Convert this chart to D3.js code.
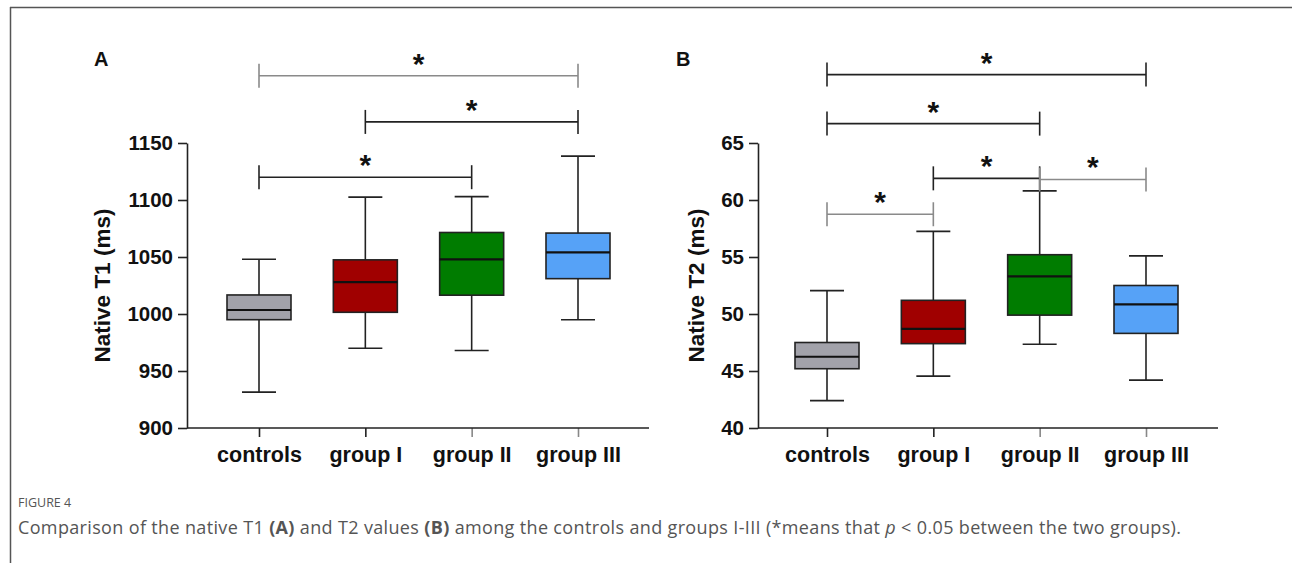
<!DOCTYPE html>
<html>
<head>
<meta charset="utf-8">
<script src="https://cdn.jsdelivr.net/npm/d3@7"></script>
<style>
  body { margin: 0; background: #fff; }
  svg text { font-family: "Liberation Sans", Arial, sans-serif; }
</style>
</head>
<body>
<svg id="chart" width="1292" height="563"></svg>
<script>
// groups and colours
const groups = ["controls", "group I", "group II", "group III"];
const boxColors = ["#a2a2aa", "#a00000", "#007c00", "#56a2f7"];

// native T1 (ms) - whisker low, Q1, median, Q3, whisker high
const t1Low = [931.5, 970, 968, 995];
const t1Q1 = [995, 1001.5, 1016.5, 1031];
const t1Med = [1003.5, 1028, 1048, 1054];
const t1Q3 = [1016.7, 1047.5, 1071.5, 1071];
const t1High = [1048, 1102.5, 1103, 1138.5];
const t1Ticks = [900, 950, 1000, 1050, 1100, 1150];
// significance brackets [from, to, height, light]
const t1Sig = [[0, 2, 1120, false], [1, 3, 1168.5, false], [0, 3, 1209, true]];

// native T2 (ms)
const t2Low = [42.4, 44.55, 47.35, 44.2];
const t2Q1 = [45.2, 47.4, 49.9, 48.3];
const t2Med = [46.25, 48.7, 53.3, 50.85];
const t2Q3 = [47.5, 51.2, 55.2, 52.5];
const t2High = [52.05, 57.25, 60.8, 55.1];
const t2Ticks = [40, 45, 50, 55, 60, 65];
const t2Sig = [[0, 1, 58.75, true], [1, 2, 61.9, false], [2, 3, 61.8, true], [0, 2, 66.7, false], [0, 3, 71, false]];

const svg = d3.select("#chart");

// frame lines
svg.append("line").attr("x1", 10).attr("x2", 1292).attr("y1", 7.5).attr("y2", 7.5)
  .attr("stroke", "#555").attr("stroke-width", 1.5);
svg.append("line").attr("x1", 10.5).attr("x2", 10.5).attr("y1", 7).attr("y2", 563)
  .attr("stroke", "#555").attr("stroke-width", 1.5);

function panel(opt) {
  const g = svg.append("g");
  const y = d3.scaleLinear().domain(opt.domain).range([428, 143]);
  const x = d3.scalePoint().domain(groups).range([opt.x0, opt.x0 + 319]);
  const boxW = 64, capW = 34;

  // y axis
  const yAxis = g.append("g")
    .attr("transform", `translate(${opt.axisX},0)`)
    .call(d3.axisLeft(y).tickValues(opt.ticks).tickFormat(d3.format("d"))
      .tickSize(9).tickSizeOuter(0).tickPadding(5));
  yAxis.select(".domain").attr("stroke", "#222").attr("stroke-width", 1.6);
  yAxis.selectAll(".tick line").attr("stroke", "#222").attr("stroke-width", 1.6);
  yAxis.selectAll(".tick text").attr("font-size", 20.5).attr("font-weight", "bold").attr("fill", "#111")
    .style("font-family", "'Liberation Sans', Arial, sans-serif");

  // x axis
  const xAxis = g.append("g")
    .attr("transform", `translate(0,${y(opt.domain[0])})`)
    .call(d3.axisBottom(x).tickSize(9).tickPadding(10));
  xAxis.select(".domain").remove();
  xAxis.append("line").attr("x1", opt.axisX).attr("x2", opt.axisEnd)
    .attr("stroke", "#222").attr("stroke-width", 1.6);
  xAxis.selectAll(".tick line").attr("stroke", (d, i) => i > 1 ? "#888" : "#222").attr("stroke-width", 1.6);
  xAxis.selectAll(".tick text").attr("font-size", 21.5).attr("font-weight", "bold").attr("fill", "#111")
    .style("font-family", "'Liberation Sans', Arial, sans-serif");

  // axis title
  g.append("text")
    .attr("transform", `translate(${opt.titleX},${(y.range()[0] + y.range()[1]) / 2}) rotate(-90)`)
    .attr("text-anchor", "middle")
    .attr("font-size", 22.5).attr("font-weight", "bold").attr("fill", "#111")
    .text(opt.title);

  // panel letter
  g.append("text").attr("x", opt.letterX).attr("y", 66)
    .attr("font-size", 20).attr("font-weight", "bold").attr("fill", "#111")
    .text(opt.letter);

  const boxes = g.selectAll("g.box")
    .data(groups)
    .join("g")
    .attr("class", "box");

  // whiskers
  boxes.append("line")
    .attr("x1", d => x(d)).attr("x2", d => x(d))
    .attr("y1", (d, i) => y(opt.low[i])).attr("y2", (d, i) => y(opt.high[i]))
    .attr("stroke", "#222").attr("stroke-width", 1.6);
  boxes.append("line")
    .attr("x1", d => x(d) - capW / 2).attr("x2", d => x(d) + capW / 2)
    .attr("y1", (d, i) => y(opt.low[i])).attr("y2", (d, i) => y(opt.low[i]))
    .attr("stroke", "#222").attr("stroke-width", 1.6);
  boxes.append("line")
    .attr("x1", d => x(d) - capW / 2).attr("x2", d => x(d) + capW / 2)
    .attr("y1", (d, i) => y(opt.high[i])).attr("y2", (d, i) => y(opt.high[i]))
    .attr("stroke", "#222").attr("stroke-width", 1.6);

  // box
  boxes.append("rect")
    .attr("x", d => x(d) - boxW / 2)
    .attr("width", boxW)
    .attr("y", (d, i) => y(opt.q3[i]))
    .attr("height", (d, i) => y(opt.q1[i]) - y(opt.q3[i]))
    .attr("fill", (d, i) => boxColors[i])
    .attr("stroke", "#222").attr("stroke-width", 1.6);

  // median
  boxes.append("line")
    .attr("x1", d => x(d) - boxW / 2).attr("x2", d => x(d) + boxW / 2)
    .attr("y1", (d, i) => y(opt.med[i])).attr("y2", (d, i) => y(opt.med[i]))
    .attr("stroke", "#111").attr("stroke-width", 2.2);

  // significance brackets
  const sig = g.selectAll("g.sig")
    .data(opt.sig)
    .join("g")
    .attr("class", "sig")
    .attr("stroke", d => d[3] ? "#8a8a8a" : "#222");
  sig.append("line")
    .attr("x1", d => x(groups[d[0]])).attr("x2", d => x(groups[d[1]]))
    .attr("y1", d => y(d[2])).attr("y2", d => y(d[2]))
    .attr("stroke-width", 1.6);
  sig.append("line")
    .attr("x1", d => x(groups[d[0]])).attr("x2", d => x(groups[d[0]]))
    .attr("y1", d => y(d[2]) - 12).attr("y2", d => y(d[2]) + 12)
    .attr("stroke-width", 1.6);
  sig.append("line")
    .attr("x1", d => x(groups[d[1]])).attr("x2", d => x(groups[d[1]]))
    .attr("y1", d => y(d[2]) - 12).attr("y2", d => y(d[2]) + 12)
    .attr("stroke-width", 1.6);
  sig.append("text")
    .attr("x", d => (x(groups[d[0]]) + x(groups[d[1]])) / 2)
    .attr("y", d => y(d[2]) - 2)
    .attr("text-anchor", "middle")
    .attr("stroke", "none")
    .attr("fill", "#111")
    .attr("font-size", 30).attr("font-weight", "bold")
    .text("*");
}

panel({
  domain: [900, 1150], ticks: t1Ticks, axisX: 187, axisEnd: 649, x0: 259,
  title: "Native T1 (ms)", titleX: 110, letter: "A", letterX: 94,
  low: t1Low, q1: t1Q1, med: t1Med, q3: t1Q3, high: t1High, sig: t1Sig
});

panel({
  domain: [40, 65], ticks: t2Ticks, axisX: 758, axisEnd: 1218, x0: 827,
  title: "Native T2 (ms)", titleX: 704, letter: "B", letterX: 676,
  low: t2Low, q1: t2Q1, med: t2Med, q3: t2Q3, high: t2High, sig: t2Sig
});

// caption
svg.append("text").attr("x", 18).attr("y", 507)
  .style("font-family", "'Open Sans', 'Noto Sans', sans-serif")
  .attr("font-size", 12.5).attr("fill", "#555")
  .text("FIGURE 4");
const cap = svg.append("text").attr("x", 18).attr("y", 534)
  .style("font-family", "'Open Sans', 'Noto Sans', sans-serif")
  .style("letter-spacing", "0.35px")
  .attr("font-size", 18).attr("fill", "#555");
cap.append("tspan").text("Comparison of the native T1 ");
cap.append("tspan").attr("font-weight", "bold").text("(A)");
cap.append("tspan").text(" and T2 values ");
cap.append("tspan").attr("font-weight", "bold").text("(B)");
cap.append("tspan").text(" among the controls and groups I-III (*means that ");
cap.append("tspan").attr("font-style", "italic").text("p");
cap.append("tspan").text(" < 0.05 between the two groups).");
</script>
</body>
</html>
